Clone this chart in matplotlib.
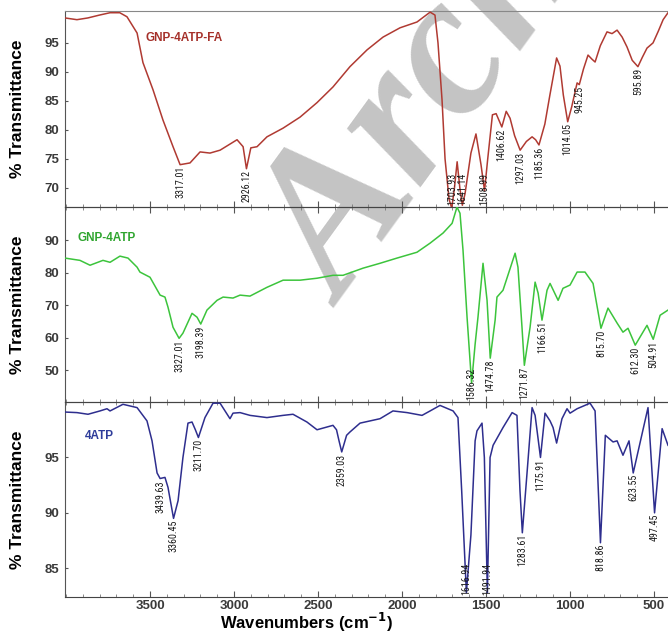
import numpy as np
import matplotlib
matplotlib.use("Agg")
import matplotlib.pyplot as plt
from matplotlib.ticker import MultipleLocator
from matplotlib import font_manager as fm

# ---------------- data ----------------
fa_w = [4006, 3935, 3870, 3800, 3738, 3680, 3637, 3577, 3542, 3482, 3423, 3363, 3321,
        3262, 3202, 3143, 3083, 2982, 2946, 2926, 2900, 2863, 2804, 2708, 2607, 2506,
        2411, 2310, 2208, 2113, 2012, 1911, 1833, 1804, 1786, 1762, 1744, 1720, 1704,
        1688, 1672, 1656, 1641, 1625, 1590, 1560, 1530, 1509, 1490, 1462, 1440, 1406,
        1380, 1357, 1330, 1297, 1260, 1226, 1205, 1185, 1150, 1120, 1080, 1060, 1040,
        1014, 990, 958, 945, 920, 893, 870, 851, 820, 780, 750, 720, 690, 661, 630,
        596, 570, 542, 506, 475, 446, 417]
fa_t = [99.3, 99.0, 99.3, 99.8, 100.2, 100.2, 99.5, 96.7, 91.6, 86.9, 81.7, 77.1, 74.0,
        74.3, 76.2, 76.0, 76.5, 78.3, 77.1, 73.3, 76.9, 77.1, 78.8, 80.3, 82.2, 84.7,
        87.4, 90.9, 93.8, 96.0, 97.6, 98.6, 100.3, 99.8, 95.0, 85.2, 75.0, 68.0, 66.5,
        70.0, 74.5, 70.0, 67.0, 69.0, 76.0, 79.3, 74.0, 69.5, 75.0, 82.6, 82.8, 80.5,
        83.2, 82.0, 79.0, 76.5, 78.0, 78.8, 78.3, 77.4, 81.0, 86.0, 92.4, 91.0, 86.0,
        81.4, 84.0, 88.1, 87.8, 90.5, 92.9, 92.2, 91.7, 94.5, 96.9, 96.6, 97.2, 96.0,
        94.3, 92.0, 90.9, 92.5, 94.1, 95.0, 97.0, 99.0, 100.2]

gnp_w = [4006, 3917, 3857, 3780, 3738, 3679, 3631, 3577, 3560, 3500, 3440, 3411, 3393,
         3363, 3327, 3304, 3250, 3220, 3198, 3161, 3101, 3065, 3006, 2964, 2905, 2804,
         2708, 2607, 2506, 2411, 2351, 2232, 2131, 2030, 1911, 1833, 1756, 1702, 1673,
         1655, 1637, 1613, 1586, 1565, 1548, 1518, 1494, 1475, 1446, 1435, 1399, 1327,
         1310, 1286, 1272, 1238, 1208, 1190, 1167, 1137, 1119, 1071, 1042, 1000, 958,
         911, 863, 816, 774, 720, 685, 655, 612, 542, 505, 464, 417]
gnp_t = [84.5, 83.8, 82.3, 83.8, 83.2, 85.1, 84.5, 81.7, 80.2, 78.6, 73.1, 72.5, 69.4,
         63.2, 59.8, 61.4, 67.5, 66.3, 64.2, 68.5, 71.5, 72.5, 72.2, 73.1, 72.8, 75.5,
         77.7, 77.7, 78.3, 79.2, 79.2, 81.4, 82.9, 84.5, 86.3, 89.1, 92.2, 95.2, 100.2,
         98.3, 86.9, 66.3, 46.0, 58.0, 66.3, 82.9, 71.5, 53.7, 65.4, 72.5, 74.6, 86.0,
         81.7, 63.2, 51.5, 63.2, 77.1, 73.7, 65.4, 74.6, 76.7, 71.5, 75.2, 76.2, 80.2,
         80.2, 76.7, 62.9, 69.1, 64.5, 61.7, 62.9, 57.7, 63.8, 59.5, 66.9, 68.5]

atp_w = [4006, 3935, 3869, 3798, 3756, 3738, 3661, 3577, 3518, 3488, 3458, 3440, 3411,
         3393, 3360, 3333, 3304, 3274, 3250, 3230, 3212, 3173, 3125, 3083, 3024, 3006,
         2964, 2905, 2804, 2708, 2649, 2566, 2506, 2411, 2390, 2375, 2359, 2330, 2310,
         2250, 2131, 2054, 1970, 1881, 1833, 1774, 1696, 1667, 1645, 1617, 1590, 1565,
         1554, 1524, 1510, 1492, 1476, 1458, 1399, 1345, 1316, 1298, 1284, 1256, 1226,
         1208, 1176, 1149, 1119, 1101, 1080, 1048, 1018, 1000, 958, 881, 851, 819, 790,
         744, 720, 685, 649, 624, 536, 497, 452, 417]
atp_t = [99.1, 99.05, 98.9, 99.2, 99.4, 99.2, 99.8, 99.5, 98.3, 96.5, 93.6, 93.1, 93.2,
         92.3, 89.5, 91.1, 95.0, 98.1, 98.2, 97.5, 96.8, 98.6, 99.9, 99.9, 98.5, 99.0,
         99.05, 98.8, 98.6, 98.8, 98.9, 98.2, 97.5, 97.9, 97.5, 96.5, 95.5, 97.0, 97.3,
         98.1, 98.5, 99.2, 99.05, 98.8, 99.2, 99.7, 99.2, 98.6, 92.0, 82.8, 88.0, 96.5,
         97.4, 98.1, 95.0, 82.8, 95.0, 96.1, 97.7, 99.05, 98.8, 92.0, 88.2, 93.6, 99.5,
         98.8, 95.0, 99.0, 98.3, 97.7, 96.3, 98.5, 99.4, 99.0, 99.4, 99.9, 99.2, 87.3, 97.0,
         96.4, 96.5, 95.2, 96.5, 93.6, 99.5, 90.0, 97.6, 96.1]

fa_peaks = ["3317.01", "2926.12", "1703.93", "1641.14", "1508.99", "1406.62",
            "1297.03", "1185.36", "1014.05", "945.25", "595.89"]
gnp_peaks = ["3327.01", "3198.39", "1586.32", "1474.78", "1271.87", "1166.51",
             "815.70", "612.30", "504.91"]
atp_peaks = ["3439.63", "3360.45", "3211.70", "2359.03", "1616.94", "1491.94",
             "1283.61", "1175.91", "818.86", "623.55", "497.45"]

names = ["GNP-4ATP-FA", "GNP-4ATP", "4ATP"]
colors = ["#b03a32", "#3cc43c", "#2e2e8e"]
name_colors = ["#a5302a", "#2fa52f", "#2e3c9a"]
ylims = [(66.7, 100.5), (40.2, 100.2), (82.4, 100.0)]
yticks = [[70, 75, 80, 85, 90, 95], [50, 60, 70, 80, 90], [85, 90, 95]]
xticks = [3500, 3000, 2500, 2000, 1500, 1000, 500]

# narrow font for the band labels, if one is installed
avail = {f.name for f in fm.fontManager.ttflist}
narrow_size = {'Liberation Sans Narrow': 7.5, 'Roboto Condensed': 7.2,
               'DejaVu Sans Condensed': 6.6, 'Open Sans Condensed': 7.2}
peak_family, peak_size = 'Liberation Sans', 6.4
for fam, sz in narrow_size.items():
    if fam in avail:
        peak_family, peak_size = fam, sz
        break

# ---------------- figure ----------------
plt.rcParams['font.family'] = ['Liberation Sans', 'DejaVu Sans']
fig = plt.figure(figsize=(6.68, 6.35), dpi=100)

# watermark
fig.text(0.515, 0.515, "Archive", rotation=54, rotation_mode='anchor',
         ha='left', va='baseline', fontsize=146, family=['Liberation Serif', 'DejaVu Serif'],
         weight='bold', style='italic', color='#c4c4c4', zorder=-5)

left = 65 / 668
width = 1.0 - left
rects = [[left, 0.674, width, 0.3087],
         [left, 0.3669, width, 0.307],
         [left, 0.0598, width, 0.307]]

series = [(fa_w, fa_t, fa_peaks), (gnp_w, gnp_t, gnp_peaks), (atp_w, atp_t, atp_peaks)]
name_pos = [(0.133, 0.862), (0.020, 0.841), (0.033, 0.826)]

for i, (rect, (w, t, peaks)) in enumerate(zip(rects, series)):
    ax = fig.add_axes(rect)
    ax.patch.set_alpha(0)
    ax.plot(w, t, color=colors[i], lw=1.1, zorder=3)
    ax.set_xlim(4006, 417)
    ax.set_ylim(*ylims[i])
    ax.set_yticks(yticks[i])
    ax.set_xticks(xticks)
    ax.xaxis.set_minor_locator(MultipleLocator(100))
    ax.tick_params(axis='x', which='major', direction='in', length=4, color='#555',
                   top=(i > 0), bottom=True)
    ax.tick_params(axis='x', which='minor', direction='in', length=2, color='#777',
                   top=(i > 0), bottom=True)
    ax.tick_params(axis='y', direction='in', length=2.5, color='#555', labelsize=9.5,
                   labelcolor='#3a3a3a', pad=4)
    for lab in ax.get_yticklabels():
        lab.set_fontweight('bold')
    ax.spines['right'].set_visible(False)
    ax.spines['left'].set_color('#555')
    ax.spines['bottom'].set_color('#444')
    ax.spines['top'].set_color('#888' if i == 0 else '#444')
    if i < 2:
        ax.tick_params(axis='x', labelbottom=False)
    else:
        ax.tick_params(axis='x', labelsize=9.5, labelcolor='#3a3a3a', pad=2)
        for lab in ax.get_xticklabels():
            lab.set_fontweight('bold')

    # panel name
    ax.text(name_pos[i][0], name_pos[i][1], names[i], transform=ax.transAxes,
            color=name_colors[i], fontsize=8.5, weight='bold', ha='left', va='center')

    # peak labels: just under the band minimum, or at the panel floor for deep bands
    ylo, yhi = ylims[i]
    wr = np.array(w[::-1], float)
    tr = np.array(t[::-1], float)
    for p in peaks:
        pw = float(p)
        tv = np.interp(pw, wr, tr)
        frac = max((tv - ylo) / (yhi - ylo) - 0.008, 0.175)
        ax.text(pw, frac, p, transform=ax.get_xaxis_transform(), rotation=90,
                ha='center', va='top', fontsize=peak_size, color='#1a1a1a',
                family=peak_family, zorder=4)

    fig.text(18 / 668, rect[1] + rect[3] / 2, "% Transmittance", rotation=90,
             ha='center', va='center', fontsize=12.5, weight='bold')

fig.text(307 / 668, 1 - 622 / 635, r"Wavenumbers (cm$^{\mathbf{-1}}$)", ha='center',
         va='center', fontsize=12, weight='bold')

fig.savefig("out.png", dpi=100)
